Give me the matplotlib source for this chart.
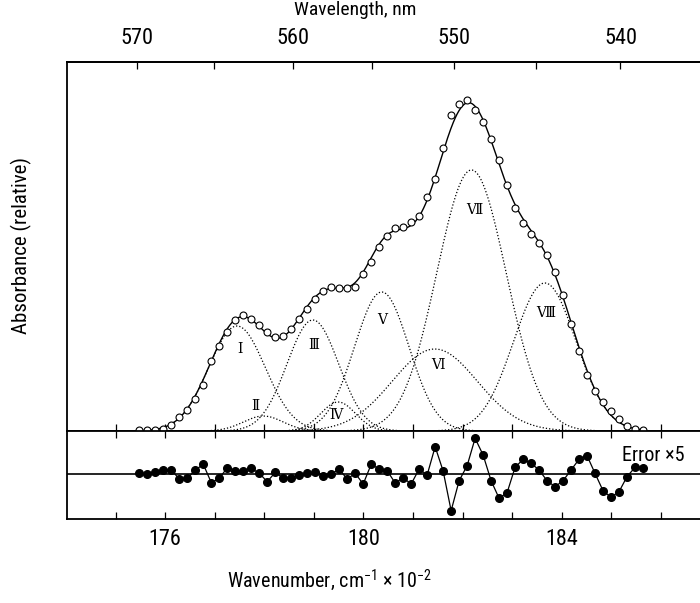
import numpy as np
import matplotlib
matplotlib.use('Agg')
import matplotlib.pyplot as plt
from matplotlib import font_manager
from matplotlib.ticker import FixedLocator

# the original uses a narrow sans; take one if installed
names = sorted({f.name for f in font_manager.fontManager.ttflist})
sans = 'Liberation Sans'
for want in ['Liberation Sans Narrow', 'Roboto Condensed', 'Open Sans Condensed', 'Arial Narrow']:
    if want in names:
        sans = want
        break
else:
    others = [n for n in names if ('Narrow' in n or 'Condensed' in n) and 'Mono' not in n and 'Serif' not in n]
    if others:
        sans = others[0]
narrow = sans != 'Liberation Sans'

plt.rcParams['font.family'] = [sans, 'DejaVu Sans']
plt.rcParams['mathtext.fontset'] = 'custom'
plt.rcParams['mathtext.rm'] = sans
plt.rcParams['mathtext.it'] = sans

tick_size = 16 if narrow else 14
label_size = 14 if narrow else 12.5

# measured points (wavenumber in cm-1 x 1e-2), evenly spaced
wavenumber = np.linspace(175.48, 185.64, 64)
absorbance = [1, 1, 1.3, 2.3, 6, 14.3, 21, 32.3, 45.7, 70,
              85, 99, 110.7, 115.7, 112.3, 106, 99.5, 94, 95, 102,
              112, 122, 132, 140.3, 144.5, 143, 142.7, 144.5, 156.7, 169.3,
              184, 195.5, 203, 204, 209, 215.5, 234, 251.5, 283, 315.5,
              327, 331, 321, 309, 292, 271, 246.5, 223, 208, 197.5,
              188, 176.5, 159.5, 136, 107, 80.5, 56.5, 40, 29, 20,
              12.5, 5.5, 1.7, 0.8]
error_x5 = [0.7, 0, 1.7, 4, 4, -5, -4.3, 4, 9.7, -8.7,
            -4.3, 6.3, 3.3, 3.3, 5.7, 0.7, -7.7, 1.7, -4.3, -4.3,
            -1, 0.7, 1.7, -1.7, 0, 4.7, -5, 0.7, -10, 9.7,
            5, 3.3, -9, -3.7, -10, 5, -1, 27.3, 3, -36.7,
            -6.7, 8.3, 35.7, 19, -6.7, -24.3, -18.7, 6.7, 14.7, 10.7,
            4, -6.7, -12.7, -6.7, 4, 14.7, 18.3, 0.7, -16.7, -23.3,
            -17.7, -2.7, 6.7, 5.7]

# gaussian bands of the fit
band_labels = ['Ⅰ', 'Ⅱ', 'Ⅲ', 'Ⅳ', 'Ⅴ', 'Ⅵ', 'Ⅶ', 'Ⅷ']
band_center = [177.45, 177.98, 178.98, 179.49, 180.37, 181.44, 182.18, 183.66]
band_height = [105, 15, 111, 29, 139, 82, 261, 148]
band_width = [0.57, 0.40, 0.52, 0.35, 0.55, 0.86, 0.70, 0.63]
label_x = [177.50, 177.81, 179.00, 179.45, 180.37, 181.51, 182.24, 183.68]
label_y = [82, 25, 86, 16, 111, 66, 221, 118]

top_major = [570, 560, 550, 540]
top_minor = [565, 555, 545]

fig = plt.figure(figsize=(7.0, 6.03), dpi=100)
ax = fig.add_axes([0.0957, 0.2852, 0.9043, 0.6120])
ax_err = fig.add_axes([0.0957, 0.1393, 0.9043, 0.1459], sharex=ax)

xf = np.linspace(wavenumber[0], wavenumber[-1], 800)
total = np.zeros_like(xf)
for c, h, w in zip(band_center, band_height, band_width):
    comp = h * np.exp(-0.5 * ((xf - c) / w) ** 2)
    total += comp
    ax.plot(xf, comp, color='black', lw=0.9, ls=(0, (1, 1.6)), zorder=2)
ax.plot(xf, total, color='black', lw=1.0, zorder=3)
ax.plot(wavenumber, absorbance, 'o', ms=5, mfc='white', mec='black', mew=0.8, zorder=4)

for lab, x, y in zip(band_labels, label_x, label_y):
    ax.text(x, y, lab, family=['DejaVu Serif', 'DejaVu Sans'], fontsize=10,
            ha='center', va='center')

ax_err.axhline(0, color='black', lw=1.2)
ax_err.plot(wavenumber, error_x5, '-o', color='black', lw=0.9, ms=5.5)
ax_err.text(0.975, 0.72, 'Error ×5', transform=ax_err.transAxes, ha='right', va='center',
            fontsize=label_size + 0.5)

ax.set_xlim(174.02, 186.79)
ax.set_ylim(0, 369)
ax_err.set_ylim(-45, 43)

for a in (ax, ax_err):
    a.spines['right'].set_visible(False)
    for s in ('left', 'top', 'bottom'):
        a.spines[s].set_linewidth(1.3)
    a.set_yticks([])
    a.xaxis.set_major_locator(FixedLocator(np.arange(175, 187)))
    a.tick_params(axis='x', direction='in', length=5, width=0.9, top=True, bottom=True, labeltop=False)

ax.tick_params(axis='x', labelbottom=False, top=False)
ax_err.tick_params(axis='x', labelsize=tick_size, pad=7)
ax_err.set_xticks(np.arange(175, 187))
ax_err.set_xticklabels(['' if v % 4 else str(v) for v in range(175, 187)])

# top axis in wavelength
top = ax.secondary_xaxis('top', functions=(lambda v: 1e5 / v, lambda v: 1e5 / v))
top.set_xticks(top_major)
top.xaxis.set_minor_locator(FixedLocator(top_minor))
top.tick_params(which='both', direction='in', length=5, width=0.9, labelsize=tick_size, pad=9)
top.spines['top'].set_linewidth(1.3)

fig.text(0.507, 0.983, 'Wavelength, nm', ha='center', va='center', fontsize=label_size)
fig.text(0.471, 0.038, r'Wavenumber, cm$^{-1}$ $\times$ 10$^{-2}$', ha='center', va='center',
         fontsize=label_size + 0.5)
fig.text(0.031, 0.593, 'Absorbance (relative)', rotation=90, ha='center', va='center',
         fontsize=label_size + 1)

fig.savefig('out.png', dpi=100)
